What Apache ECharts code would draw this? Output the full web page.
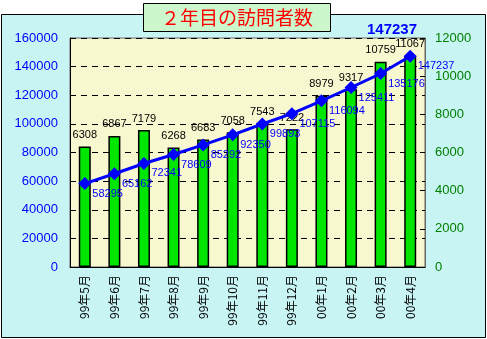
<!DOCTYPE html>
<html><head><meta charset="utf-8">
<script src="https://cdn.jsdelivr.net/npm/echarts@6/dist/echarts.min.js"></script>
<style>html,body{margin:0;padding:0;background:#fff}#c{width:487px;height:339px}</style>
</head><body><div id="c"></div>
<script>
const categories = ['99年5月','99年6月','99年7月','99年8月','99年9月','99年10月','99年11月','99年12月','00年1月','00年2月','00年3月','00年4月'];
const monthlyVisitors = [6308, 6867, 7179, 6268, 6683, 7058, 7543, 7222, 8979, 9317, 10759, 11067];
const cumulativeVisitors = [58295, 65162, 72341, 78609, 85292, 92350, 99893, 107115, 116094, 125411, 135176, 147237];
const titleText = '２年目の訪問者数';

const chart = echarts.init(document.getElementById('c'), null, {renderer:'canvas'});
const font = 'Liberation Sans, Arial, sans-serif';
const plain = v => String(v);
chart.setOption({
  animation: false,
  backgroundColor: '#ffffff',
  graphic: [
    {type:'rect', z:-10, shape:{x:1.5, y:14.5, width:484, height:323}, style:{fill:'#c8f4f4', stroke:'#000', lineWidth:1}}
  ],
  title: [
    {text: titleText, left: 143, top: 3, backgroundColor:'#ccf6cc', borderColor:'#000', borderWidth:1,
     padding:[5, 18, 5, 18], textStyle:{color:'#ff0000', fontSize:19, fontWeight:'normal', fontFamily:'Noto Sans CJK JP'}},
    {text: String(cumulativeVisitors[cumulativeVisitors.length-1]), left: 362, top: 17,
     textStyle:{color:'#0000ff', fontSize:15, fontWeight:'bold', fontFamily:font}}
  ],
  grid: {left:70, right:62, top:38, bottom:72, show:true, backgroundColor:'#f8f8d0', borderColor:'#666', borderWidth:1},
  xAxis: {
    type:'category', data: categories,
    axisLine:{lineStyle:{color:'#000', width:1}},
    axisTick:{inside:true, length:5, lineStyle:{color:'#000'}},
    axisLabel:{rotate:90, margin:8, color:'#000', fontSize:12, fontFamily:'Noto Sans CJK JP'}
  },
  yAxis: [
    {type:'value', min:0, max:160000, interval:20000,
     axisLine:{show:true, lineStyle:{color:'#000'}},
     axisTick:{show:true, inside:true, length:5, lineStyle:{color:'#000'}},
     axisLabel:{color:'#0000ff', fontSize:13, fontFamily:font, margin:12, formatter: plain},
     splitLine:{show:true, lineStyle:{color:'#000', type:[6,5], width:1}}},
    {type:'value', min:0, max:12000, interval:2000, position:'right',
     axisLine:{show:true, lineStyle:{color:'#666'}},
     axisTick:{show:true, inside:true, length:5, lineStyle:{color:'#000'}},
     axisLabel:{color:'#008000', fontSize:13, fontFamily:font, margin:10, formatter: plain},
     splitLine:{show:false}}
  ],
  series: [
    {type:'bar', yAxisIndex:1, data: monthlyVisitors, barWidth:12,
     itemStyle:{color:'#00e600', borderColor:'#000', borderWidth:1.5},
     label:{show:true, position:'top', distance:6, color:'#000', fontSize:11, fontFamily:font, formatter: p => String(p.value)}},
    {type:'line', yAxisIndex:0, data: cumulativeVisitors, symbol:'diamond', symbolSize:13,
     lineStyle:{color:'#0000ff', width:3}, itemStyle:{color:'#0000ff'},
     label:{show:true, position:'right', distance:1, offset:[0,10], color:'#0000ff', fontSize:11, fontFamily:font, formatter: p => String(p.value)}}
  ]
});
</script></body></html>
